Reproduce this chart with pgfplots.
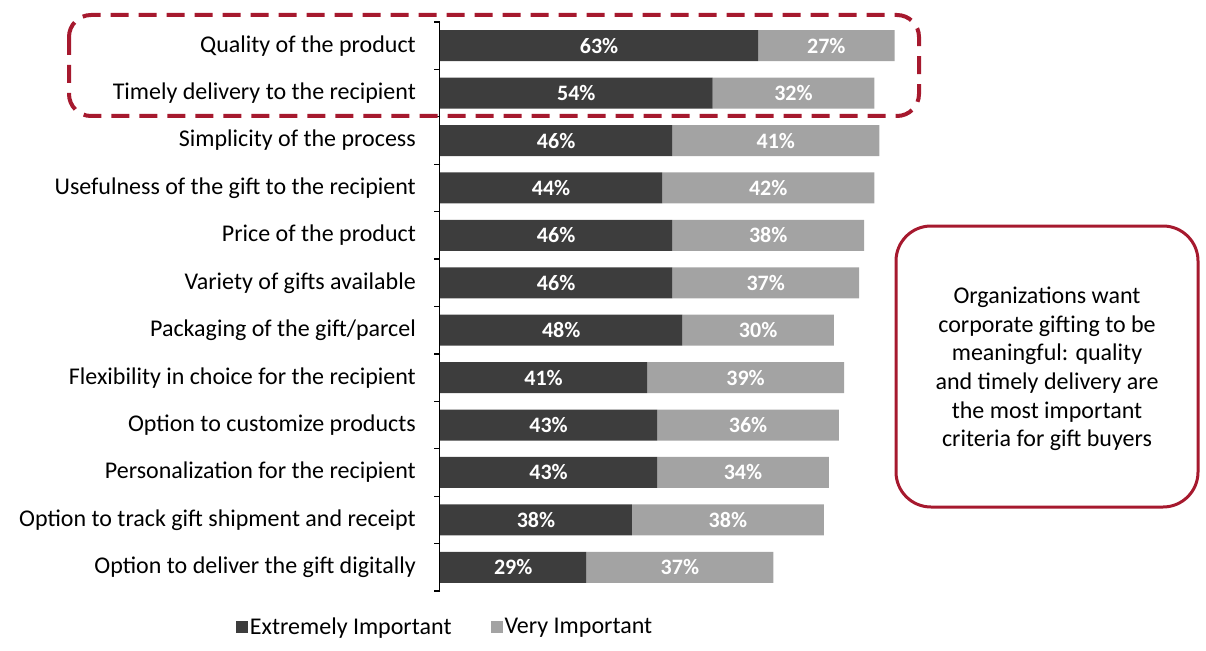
\documentclass[border=0pt]{standalone}
\usepackage{pgfplots}
\pgfplotsset{compat=1.18}
\usepackage{pgfplotstable}
\usepackage{fontspec}
\setmainfont{Carlito}
\definecolor{darkbar}{HTML}{3D3D3D}
\definecolor{lightbar}{HTML}{A3A3A3}
\definecolor{brand}{HTML}{A6192E}

\pgfplotstableread{
idx ext very
0 63 27
1 54 32
2 46 41
3 44 42
4 46 38
5 46 37
6 48 30
7 41 39
8 43 36
9 43 34
10 38 38
11 29 37
}\data

\begin{document}
\begin{tikzpicture}[x=1pt,y=1pt]
\useasboundingbox (0,0) rectangle (1206,-650);
\pgfplotsset{common/.style={
  scale only axis, width=505pt, height=569pt,
  xmin=0, xmax=100, ymin=-0.5, ymax=11.5, y dir=reverse,
  at={(440pt,-591pt)}, anchor=south west, clip=false,
  /pgf/number format/assume math mode=true}}
\begin{axis}[common, xbar stacked, bar width=31pt,
  axis x line=none, axis y line*=left,
  axis line style={draw=none},
  ytick={0,1,2,3,4,5,6,7,8,9,10,11},
  yticklabels={Quality of the product,Timely delivery to the recipient,Simplicity of the process,Usefulness of the gift to the recipient,Price of the product,Variety of gifts available,Packaging of the gift/parcel,Flexibility in choice for the recipient,Option to customize products,Personalization for the recipient,Option to track gift shipment and receipt,Option to deliver the gift digitally},
  major tick length=0pt,
  yticklabel style={font=\fontsize{24}{28}\selectfont, inner sep=0pt, xshift=-24pt},
  legend style={at={(axis description cs:0.01,-0.063)}, anchor=center, draw=none, fill=none,
    legend columns=2, font=\fontsize{24}{28}\selectfont,
    /tikz/every even column/.append style={column sep=37pt}},
]
\addplot[fill=darkbar, draw=none, legend image code/.code={\fill[darkbar] (-15pt,-6pt) rectangle (-3pt,6pt);}] table[x=ext, y=idx]{\data};
\addlegendentry{Extremely Important}
\addplot[fill=lightbar, draw=none, legend image code/.code={\fill[lightbar] (-15pt,-6pt) rectangle (-3pt,6pt);}] table[x=very, y=idx]{\data};
\addlegendentry{Very Important}
\end{axis}
\begin{axis}[common, hide axis]
\addplot[only marks, mark=none, point meta=explicit, nodes near coords={\pgfmathprintnumber{\pgfplotspointmeta}\%},
  every node near coord/.append style={anchor=center, text=white, font=\fontsize{22}{26}\selectfont\bfseries}]
  table[x expr=\thisrow{ext}/2, y=idx, meta=ext]{\data};
\addplot[only marks, mark=none, point meta=explicit, nodes near coords={\pgfmathprintnumber{\pgfplotspointmeta}\%},
  every node near coord/.append style={anchor=center, text=white, font=\fontsize{22}{26}\selectfont\bfseries}]
  table[x expr=\thisrow{ext}+\thisrow{very}/2, y=idx, meta=very]{\data};
\end{axis}
\draw[black, line width=1.2pt] (439.4,-22) -- (439.4,-591);
\foreach \k in {0,...,12}{
  \draw[black, line width=1.2pt] (440,{-22-47.4167*\k}) -- (434,{-22-47.4167*\k});
}
\draw[brand, line width=4pt, dash pattern=on 18pt off 10pt, rounded corners=22pt] (69,-15) rectangle (919,-116);
\draw[brand, line width=3pt, rounded corners=35pt] (896,-226) rectangle (1198,-507);
\node[align=center, font=\fontsize{24}{28.7}\selectfont] at (1047,-369) {Organizations want\\corporate gifting to be\\meaningful: quality\\and timely delivery are\\the most important\\criteria for gift buyers};
\end{tikzpicture}
\end{document}
